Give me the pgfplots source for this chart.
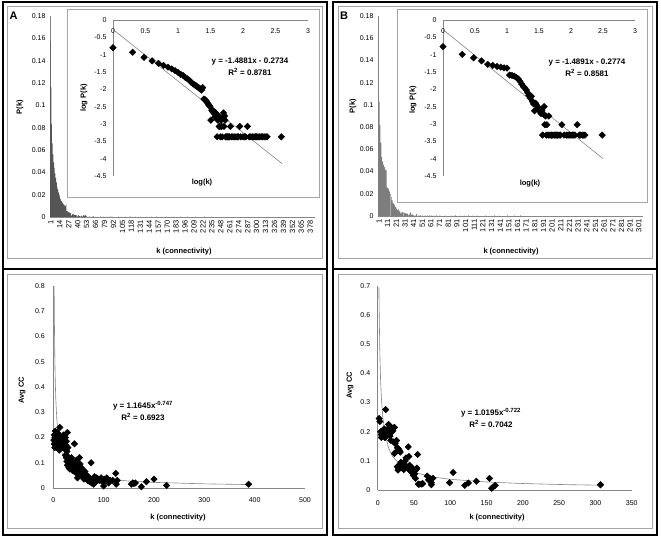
\documentclass[border=0pt]{standalone}
\usepackage{fontspec}
\setmainfont{Liberation Sans}
\usepackage{pgfplots}
\pgfplotsset{compat=1.18}
\definecolor{axgray}{RGB}{134,134,134}
\definecolor{bordergray}{RGB}{165,165,165}
\definecolor{barA}{RGB}{85,85,85}
\definecolor{barB}{RGB}{125,125,125}
\pgfplotsset{
  base/.style={scale only axis, anchor=south west, font=\fontsize{7}{8}\selectfont,
    /pgf/number format/assume math mode=true,
    axis line style={draw=axgray, line width=0.6pt},
    major tick length=0pt, hide obscured x ticks=false, hide obscured y ticks=false,
    axis x line*=bottom, axis y line*=left},
  dia/.style={only marks, mark=square*, mark size=2.3pt, mark options={rotate=45, fill=black, draw=black}},
}
\newcommand{\ttl}{\fontsize{7.5}{9}\selectfont\bfseries}
\newcommand{\eqf}{\fontsize{8}{9.5}\selectfont\bfseries}

\begin{document}
\begin{tikzpicture}
\useasboundingbox (0,0) rectangle (661pt,537pt);
\fill[white] (0,0) rectangle (661pt,537pt);

% ================= Panel A top: histogram =================
\begin{axis}[base, at={(50pt,320pt)}, width=265pt, height=201pt,
  xmin=0.5, xmax=385.5, ymin=0, ymax=0.18,
  ytick={0,0.02,0.04,0.06,0.08,0.1,0.12,0.14,0.16,0.18},
  xtick={1,14,...,378},
  xticklabel style={rotate=90, anchor=east, font=\fontsize{7.5}{8}\selectfont, yshift=-0.5pt},
  yticklabel style={/pgf/number format/fixed, /pgf/number format/precision=2, xshift=-1pt}]
\addplot[ybar, bar width=0.7, fill=barA, draw=none] table {
k P
1 0.157
2 0.116
3 0.083
4 0.066
5 0.056
6 0.049
7 0.044
8 0.039
9 0.035
10 0.031
11 0.027
12 0.025
13 0.022
14 0.020
15 0.018
16 0.0158
17 0.0145
18 0.0135
19 0.0125
20 0.0118
21 0.0110
22 0.0102
23 0.0096
24 0.0112
25 0.0052
26 0.0050
27 0.0047
28 0.0042
29 0.0038
30 0.0035
31 0.0032
32 0.0013
33 0.0025
34 0.0023
35 0.0024
36 0.0020
37 0.0016
38 0.0021
39 0.0017
40 0.00043
41 0.0013
42 0.0017
43 0.00085
44 0.00085
45 0.00043
46 0.0013
47 0.00085
48 0.00043
49 0.0015
50 0.0021
51 0.00085
52 0.0017
53 0.0013
54 0.00043
56 0.00043
58 0.00043
60 0.00043
62 0.00043
64 0.00085
66 0.00043
70 0.00043
74 0.00043
78 0.00043
82 0.00043
85 0.00043
89 0.00085
92 0.00043
100 0.00043
105 0.00043
110 0.00043
117 0.00085
125 0.00043
132 0.00043
140 0.00043
148 0.00043
155 0.00043
162 0.00043
170 0.00043
180 0.00043
190 0.00043
200 0.00043
212 0.00043
225 0.00043
235 0.00043
};
\end{axis}
\node[rotate=90] at (20pt,430pt) {\ttl P(k)};
\node at (184pt,285pt) {\ttl k (connectivity)};

% inset A
\filldraw[fill=white, draw=bordergray, line width=0.8pt] (67pt,340pt) rectangle (319pt,528pt);
\begin{axis}[base, at={(113pt,361pt)}, width=195pt, height=156pt,
  xmin=0, xmax=3, ymin=-4.5, ymax=0,
  axis x line*=middle,
  xtick={0,0.5,1,1.5,2,2.5,3},
  ytick={-4.5,-4,-3.5,-3,-2.5,-2,-1.5,-1,-0.5,0},
  xticklabel style={yshift=-5pt}, yticklabel style={xshift=-3pt}]
\addplot[axgray, line width=0.6pt, no marks] coordinates {(0,-0.2734) (2.6,-4.1425)};
\addplot[dia] table {
x y
0 -0.80
0.301 -0.93
0.477 -1.08
0.602 -1.18
0.699 -1.25
0.778 -1.31
0.845 -1.36
0.903 -1.41
0.954 -1.46
1.000 -1.51
1.041 -1.57
1.079 -1.60
1.114 -1.66
1.146 -1.70
1.176 -1.74
1.204 -1.80
1.230 -1.84
1.255 -1.87
1.279 -1.90
1.301 -1.93
1.322 -1.96
1.342 -1.99
1.362 -2.02
1.380 -1.95
1.398 -2.28
1.415 -2.30
1.431 -2.33
1.447 -2.38
1.462 -2.42
1.477 -2.46
1.491 -2.49
1.505 -2.89
1.519 -2.60
1.531 -2.64
1.544 -2.62
1.556 -2.70
1.568 -2.80
1.580 -2.68
1.591 -2.77
1.602 -3.37
1.613 -2.89
1.623 -2.77
1.633 -3.07
1.643 -3.07
1.653 -3.37
1.663 -2.89
1.672 -3.07
1.681 -3.37
1.690 -2.82
1.699 -2.68
1.708 -3.07
1.716 -2.77
1.724 -2.89
1.732 -3.37
1.748 -3.37
1.763 -3.37
1.778 -3.37
1.792 -3.37
1.806 -3.07
1.820 -3.37
1.845 -3.37
1.869 -3.37
1.892 -3.37
1.914 -3.37
1.929 -3.37
1.949 -3.07
1.964 -3.37
2.000 -3.37
2.021 -3.37
2.041 -3.37
2.068 -3.07
2.097 -3.37
2.121 -3.37
2.146 -3.37
2.170 -3.37
2.190 -3.37
2.210 -3.37
2.230 -3.37
2.255 -3.37
2.279 -3.37
2.301 -3.37
2.326 -3.37
2.352 -3.37
2.371 -3.37
2.589 -3.37
};
\end{axis}
\node[rotate=90] at (84pt,439pt) {\ttl log P(k)};
\node at (202pt,354pt) {\ttl log(k)};
\node at (250pt,475pt) {\eqf y = -1.4881x - 0.2734};
\node at (250pt,465pt) {\eqf R\textsuperscript{2} = 0.8781};
\node at (13.5pt,521pt) {\fontsize{11}{12}\selectfont\bfseries A};

% ================= Panel B top: histogram =================
\begin{axis}[base, at={(378pt,321pt)}, width=265pt, height=200pt,
  xmin=0.5, xmax=306.5, ymin=0, ymax=0.18,
  ytick={0,0.02,0.04,0.06,0.08,0.1,0.12,0.14,0.16,0.18},
  xtick={1,11,...,301},
  xticklabel style={rotate=90, anchor=east, font=\fontsize{7.5}{8}\selectfont, yshift=-0.5pt},
  yticklabel style={/pgf/number format/fixed, /pgf/number format/precision=2, xshift=-1pt}]
\addplot[ybar, bar width=0.7, fill=barB, draw=none] table {
k P
1 0.169
2 0.103
3 0.082
4 0.066
5 0.053
6 0.049
7 0.046
8 0.044
9 0.042
10 0.041
11 0.026
12 0.025
13 0.024
14 0.022
15 0.020
16 0.017
17 0.014
18 0.012
19 0.011
20 0.0095
21 0.0080
22 0.0066
23 0.0056
24 0.0063
25 0.0045
26 0.0038
27 0.0024
28 0.0040
29 0.0035
30 0.0032
31 0.0028
32 0.0024
33 0.0026
34 0.0020
35 0.0024
36 0.00048
37 0.0019
38 0.0032
39 0.00096
40 0.0017
41 0.00048
42 0.00096
44 0.00048
45 0.0017
47 0.00048
49 0.00048
50 0.00048
52 0.00048
55 0.00048
58 0.00048
60 0.00048
62 0.00048
65 0.00048
68 0.00048
72 0.00096
78 0.00048
85 0.00048
90 0.00048
95 0.00048
100 0.00048
105 0.00048
110 0.00048
115 0.00048
125 0.00096
135 0.00048
140 0.00048
150 0.00048
158 0.00048
165 0.00048
};
\end{axis}
\node[rotate=90] at (353pt,431pt) {\ttl P(k)};
\node at (511pt,285pt) {\ttl k (connectivity)};

% inset B
\filldraw[fill=white, draw=bordergray, line width=0.8pt] (397pt,335pt) rectangle (647pt,528pt);
\begin{axis}[base, at={(443pt,361pt)}, width=192pt, height=156pt,
  xmin=0, xmax=3, ymin=-4.5, ymax=0,
  axis x line*=middle,
  xtick={0,0.5,1,1.5,2,2.5,3},
  ytick={-4.5,-4,-3.5,-3,-2.5,-2,-1.5,-1,-0.5,0},
  xticklabel style={yshift=-5pt}, yticklabel style={xshift=-3pt}]
\addplot[axgray, line width=0.6pt, no marks] coordinates {(0,-0.2774) (2.5,-4.0002)};
\addplot[dia] table {
x y
0 -0.77
0.301 -0.99
0.477 -1.09
0.602 -1.18
0.699 -1.28
0.778 -1.31
0.845 -1.34
0.903 -1.36
0.954 -1.38
1.000 -1.39
1.041 -1.59
1.079 -1.60
1.114 -1.62
1.146 -1.66
1.176 -1.70
1.204 -1.77
1.230 -1.85
1.255 -1.92
1.279 -1.96
1.301 -2.02
1.322 -2.10
1.342 -2.18
1.362 -2.25
1.380 -2.20
1.398 -2.35
1.415 -2.42
1.431 -2.62
1.447 -2.40
1.462 -2.46
1.477 -2.50
1.491 -2.55
1.505 -2.62
1.519 -2.59
1.531 -2.70
1.544 -2.62
1.556 -3.32
1.568 -2.72
1.580 -2.50
1.591 -3.02
1.602 -2.77
1.613 -3.32
1.623 -3.02
1.643 -3.32
1.653 -2.77
1.672 -3.32
1.690 -3.32
1.699 -3.32
1.716 -3.32
1.740 -3.32
1.763 -3.32
1.778 -3.32
1.792 -3.32
1.813 -3.32
1.833 -3.32
1.857 -3.02
1.892 -3.32
1.929 -3.32
1.954 -3.32
1.978 -3.32
2.000 -3.32
2.021 -3.32
2.041 -3.32
2.061 -3.32
2.097 -3.02
2.130 -3.32
2.146 -3.32
2.176 -3.32
2.199 -3.32
2.217 -3.32
2.487 -3.32
};
\end{axis}
\node[rotate=90] at (413pt,437pt) {\ttl log P(k)};
\node at (530pt,353pt) {\ttl log(k)};
\node at (587pt,474pt) {\eqf y = -1.4891x - 0.2774};
\node at (587pt,464pt) {\eqf R\textsuperscript{2} = 0.8581};
\node at (344pt,521pt) {\fontsize{11}{12}\selectfont\bfseries B};

% ================= Panel A bottom: Avg CC =================
\begin{axis}[base, at={(53.3pt,49pt)}, width=251.7pt, height=202pt,
  xmin=0, xmax=500, ymin=0, ymax=0.8,
  xtick={0,100,200,300,400,500},
  ytick={0,0.1,0.2,0.3,0.4,0.5,0.6,0.7,0.8},
  xticklabel style={yshift=-6pt}, yticklabel style={xshift=-5pt}]
\addplot[axgray, line width=0.6pt, no marks] coordinates {
(1.65,0.801) (2,0.694) (3,0.5125) (4,0.4134) (5,0.350) (7,0.2722) (10,0.2086) (15,0.1541) (20,0.1243) (30,0.0918) (50,0.0627) (75,0.0463) (100,0.0373) (150,0.0276) (200,0.02225) (300,0.01643) (388,0.01355)};
\addplot[dia] table {
k c
1 0.19
2 0.175
2 0.21
3 0.16
3 0.20
4 0.225
4 0.185
5 0.17
5 0.205
6 0.195
6 0.215
7 0.18
7 0.16
8 0.20
8 0.22
9 0.175
9 0.19
10 0.21
10 0.165
11 0.185
12 0.20
12 0.15
13 0.24
14 0.18
14 0.205
15 0.19
16 0.17
17 0.20
18 0.185
19 0.16
20 0.21
21 0.175
22 0.19
23 0.155
24 0.20
25 0.17
26 0.185
28 0.22
27 0.145
29 0.16
24 0.13
26 0.12
27 0.105
28 0.09
29 0.125
30 0.11
31 0.08
32 0.10
33 0.075
34 0.115
35 0.095
36 0.12
37 0.085
38 0.07
39 0.10
40 0.105
41 0.09
42 0.175
42 0.065
43 0.08
44 0.095
45 0.06
46 0.11
47 0.075
48 0.04
49 0.085
50 0.07
51 0.055
52 0.12
53 0.095
54 0.065
55 0.05
56 0.08
57 0.06
58 0.045
60 0.07
61 0.035
62 0.055
63 0.065
64 0.04
66 0.05
68 0.03
70 0.045
72 0.025
74 0.035
75 0.10
76 0.02
78 0.03
80 0.015
82 0.045
84 0.025
86 0.04
88 0.03
90 0.035
92 0.03
95 0.04
98 0.025
100 0.008
101 0.035
104 0.03
106 0.04
110 0.02
113 0.03
118 0.03
124 0.058
125 0.015
127 0.03
155 0.015
158 0.02
160 0.018
163 0.02
175 0.005
185 0.025
200 0.035
225 0.01
388 0.015
};
\end{axis}
\node[rotate=90] at (22pt,147pt) {\ttl Avg CC};
\node at (178pt,19pt) {\ttl k (connectivity)};
\node at (143pt,131pt) {\eqf y = 1.1645x\textsuperscript{-0.747}};
\node at (143pt,120pt) {\eqf R\textsuperscript{2} = 0.6923};

% ================= Panel B bottom: Avg CC =================
\begin{axis}[base, at={(377.7pt,47pt)}, width=254pt, height=204pt,
  xmin=0, xmax=350, ymin=0, ymax=0.7,
  xtick={0,50,100,150,200,250,300,350},
  ytick={0,0.1,0.2,0.3,0.4,0.5,0.6,0.7},
  xticklabel style={yshift=-7pt}, yticklabel style={xshift=-4pt}]
\addplot[axgray, line width=0.6pt, no marks] coordinates {
(1.7,0.695) (2,0.618) (3,0.461) (4,0.3748) (5,0.3190) (7,0.2502) (10,0.1934) (15,0.1443) (20,0.1172) (30,0.0875) (50,0.0605) (75,0.0451) (100,0.0367) (150,0.0274) (200,0.02223) (250,0.01893) (308,0.01628)};
\addplot[dia] table {
k c
2 0.245
3 0.235
4 0.20
5 0.19
5 0.18
6 0.20
7 0.185
8 0.195
9 0.21
10 0.18
11 0.276
12 0.20
13 0.19
14 0.21
15 0.225
16 0.20
17 0.185
18 0.17
19 0.215
20 0.20
21 0.205
22 0.165
23 0.215
24 0.16
25 0.13
23 0.125
26 0.17
27 0.145
28 0.135
29 0.14
30 0.135
31 0.13
27 0.08
28 0.068
29 0.075
30 0.085
32 0.095
33 0.09
34 0.075
35 0.08
36 0.07
37 0.085
38 0.10
39 0.11
40 0.08
41 0.075
42 0.148
43 0.115
44 0.085
45 0.065
46 0.07
47 0.06
48 0.075
49 0.05
50 0.065
51 0.055
52 0.04
53 0.07
54 0.075
55 0.122
56 0.02
57 0.02
60 0.02
62 0.022
68 0.048
70 0.035
72 0.04
74 0.025
76 0.04
74 0.018
99 0.025
104 0.06
120 0.016
125 0.024
136 0.03
154 0.04
157 0.006
159 0.01
162 0.016
307 0.018
};
\end{axis}
\node[rotate=90] at (350pt,152pt) {\ttl Avg CC};
\node at (497pt,19pt) {\ttl k (connectivity)};
\node at (491pt,124pt) {\eqf y = 1.0195x\textsuperscript{-0.722}};
\node at (491pt,113pt) {\eqf R\textsuperscript{2} = 0.7042};

% ================= Frames =================
\draw[bordergray, line width=0.8pt] (7pt,279pt) rectangle (322pt,531pt);
\draw[bordergray, line width=0.8pt] (7pt,9pt) rectangle (322pt,263pt);
\draw[bordergray, line width=0.8pt] (338pt,279pt) rectangle (652pt,531pt);
\draw[bordergray, line width=0.8pt] (338pt,9pt) rectangle (652pt,263pt);
\draw[black, line width=2pt] (3pt,2pt) rectangle (327pt,535pt);
\draw[black, line width=2pt] (333pt,2pt) rectangle (657pt,535pt);
\draw[black, line width=2pt] (3pt,268pt) -- (327pt,268pt);
\draw[black, line width=2pt] (333pt,268pt) -- (657pt,268pt);
\end{tikzpicture}
\end{document}
